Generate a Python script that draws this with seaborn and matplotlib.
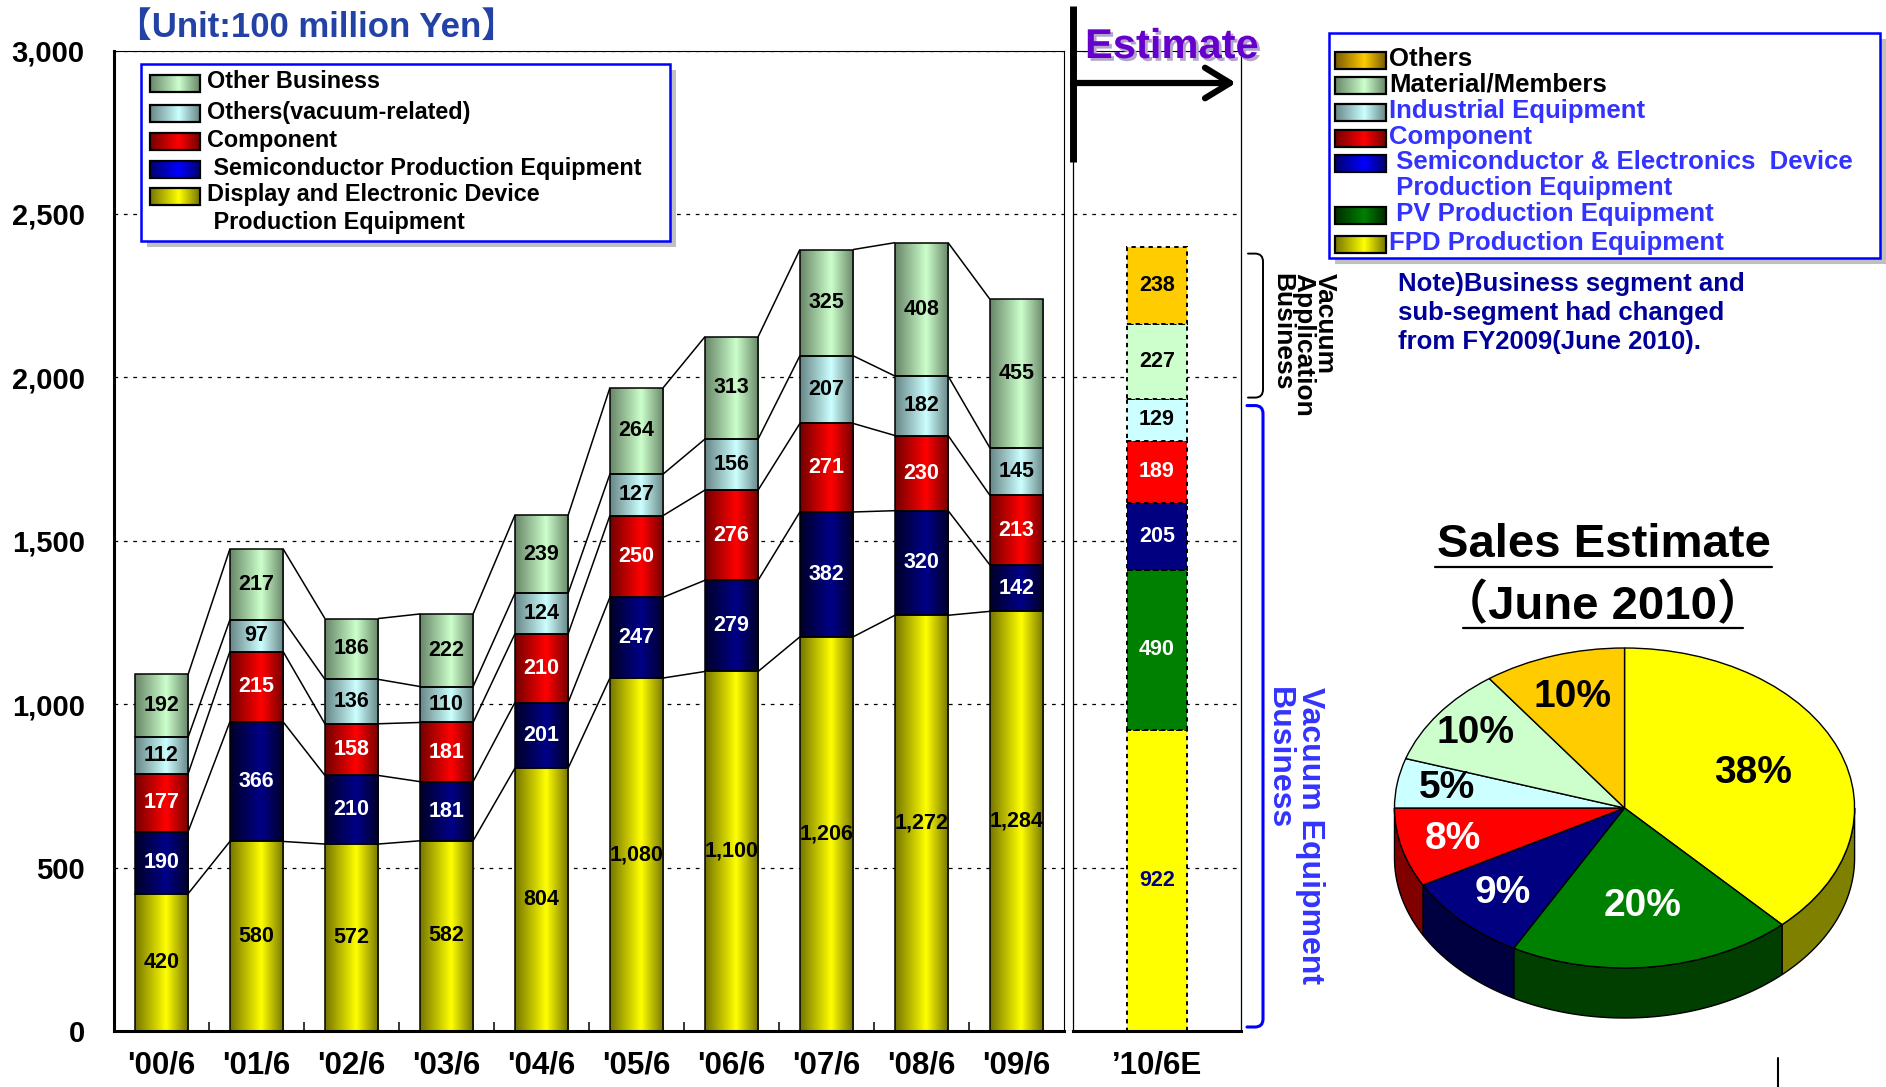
import numpy as np
import pandas as pd
import matplotlib
matplotlib.use("Agg")
import matplotlib.pyplot as plt
import matplotlib.patheffects as pe
import seaborn as sns
from matplotlib.colors import LinearSegmentedColormap
from matplotlib.patches import Rectangle, PathPatch
from matplotlib.path import Path

# ------------------------------------------------------------------
# Net sales by business segment (unit: 100 million yen)
# ------------------------------------------------------------------
years = ["'00/6", "'01/6", "'02/6", "'03/6", "'04/6",
         "'05/6", "'06/6", "'07/6", "'08/6", "'09/6"]
display_equipment = [420, 580, 572, 582, 804, 1080, 1100, 1206, 1272, 1284]
semiconductor_equipment = [190, 366, 210, 181, 201, 247, 279, 382, 320, 142]
component = [177, 215, 158, 181, 210, 250, 276, 271, 230, 213]
others_vacuum = [112, 97, 136, 110, 124, 127, 156, 207, 182, 145]
other_business = [192, 217, 186, 222, 239, 264, 313, 325, 408, 455]

# FY2010 estimate, new segmentation (bottom to top):
# FPD, PV, Semiconductor & Electronics, Component, Industrial, Material/Members, Others
estimate_label = "’10/6E"
estimate_values = [922, 490, 205, 189, 129, 227, 238]
pie_percent = [38, 20, 9, 8, 5, 10, 10]

y_ticks = [0, 500, 1000, 1500, 2000, 2500, 3000]

# ------------------------------------------------------------------
# Styling
# ------------------------------------------------------------------
W, H, DPI = 1886, 1087, 100
sns.set_theme(style="white")
plt.rcParams["font.family"] = ["Liberation Sans", "Noto Sans CJK JP", "DejaVu Sans"]
plt.rcParams["font.weight"] = "bold"
for key in ("text.color", "xtick.color", "ytick.color", "axes.labelcolor"):
    plt.rcParams[key] = "black"

# (dark edge, bright centre) pairs for the cylinder-like shading
YELLOW = ("#767600", "#ffff00")
NAVY = ("#000028", "#000088")
RED = ("#740000", "#ff0000")
CYAN = ("#688686", "#ccffff")
LGREEN = ("#688668", "#ccffcc")
BLUE_SW = ("#00006e", "#0000ff")
GOLD = ("#7a5a00", "#ffcc00")
GREEN = ("#002c00", "#008000")

GRAD = np.linspace(0, 1, 128).reshape(1, -1)


def make_cmap(pair):
    dark, bright = pair
    return LinearSegmentedColormap.from_list(
        "shade", [(0.0, dark), (0.58, bright), (1.0, dark)])


GRID_STYLE = dict(color="black", linewidth=0.9, linestyle=(0, (3, 4.5)))

fig = plt.figure(figsize=(W / DPI, H / DPI), dpi=DPI)
fig.patch.set_facecolor("white")


def fx(px):
    return px / W


def fy(py):
    return 1 - py / H


AX_TOP, AX_BOT = 50.5, 1031
ax = fig.add_axes([fx(114), fy(AX_BOT), (1064 - 114) / W, (AX_BOT - AX_TOP) / H])
ax_est = fig.add_axes([fx(1073), fy(AX_BOT), (1241 - 1073) / W, (AX_BOT - AX_TOP) / H])

# ------------------------------------------------------------------
# Historical stacked bars
# ------------------------------------------------------------------
df = pd.DataFrame({
    "year": years,
    "display": display_equipment,
    "semi": semiconductor_equipment,
    "component": component,
    "vac": others_vacuum,
    "other": other_business,
})
layers = [("display", YELLOW, "black"), ("semi", NAVY, "white"),
          ("component", RED, "white"), ("vac", CYAN, "black"),
          ("other", LGREEN, "black")]
BAR_W = 0.56
base = np.zeros(len(years))
levels = []
for col, pair, tcol in layers:
    n0 = len(ax.patches)
    sns.barplot(data=df, x="year", y=col, order=years, bottom=base, width=BAR_W,
                color=pair[1], saturation=1, errorbar=None, ax=ax)
    cmap = make_cmap(pair)
    for p in ax.patches[n0:]:
        x0, y0, w, h = p.get_x(), p.get_y(), p.get_width(), p.get_height()
        im = ax.imshow(GRAD, cmap=cmap, extent=(x0, x0 + w, y0, y0 + h),
                       aspect="auto", interpolation="bilinear", zorder=1.6)
        im.set_clip_path(p)
        p.set_facecolor("none")
        p.set_edgecolor("black")
        p.set_linewidth(1.1)
        p.set_zorder(2)
    vals = df[col].to_numpy()
    for i, v in enumerate(vals):
        ax.text(i, base[i] + v / 2, f"{v:,}", ha="center", va="center",
                color=tcol, fontsize=15.5, fontweight="bold", zorder=5)
    base = base + vals
    levels.append(base.copy())

# lines joining the segment tops of neighbouring bars
for lv in levels:
    for i in range(len(years) - 1):
        ax.plot([i + BAR_W / 2, i + 1 - BAR_W / 2], [lv[i], lv[i + 1]],
                color="black", lw=1.1, zorder=1.7, solid_capstyle="butt")

ax.set_xlim(-0.5, len(years) - 0.5)
ax.set_ylim(0, 3000)
ax.set_yticks(y_ticks)
ax.set_yticklabels([f"{v:,}" for v in y_ticks], fontsize=21, fontweight="bold")
ax.set_xticks(range(len(years)))
ax.set_xticklabels(years, fontsize=22.5, fontweight="bold")
ax.set_xticks(np.arange(0.5, len(years) - 1, 1.0), minor=True)
ax.tick_params(axis="y", length=0, pad=21)
ax.tick_params(axis="x", which="major", length=0, pad=14)
ax.tick_params(axis="x", which="minor", bottom=True, direction="in",
               length=6.5, width=1.1, color="black")
ax.set_xlabel("")
ax.set_ylabel("")
ax.grid(False)
ax.yaxis.grid(True, **GRID_STYLE)
ax.set_axisbelow(True)
for side, lw in (("left", 2.2), ("bottom", 2.2), ("top", 0.8), ("right", 0.8)):
    ax.spines[side].set_visible(True)
    ax.spines[side].set_color("black")
    ax.spines[side].set_linewidth(lw)

# ------------------------------------------------------------------
# Estimate bar
# ------------------------------------------------------------------
est_colors = ["#ffff00", "#008000", "#000080", "#ff0000", "#ccffff", "#ccffcc", "#ffcc00"]
est_text_colors = ["#000080", "white", "white", "white", "black", "black", "black"]
est_base = 0
for v, c, tc in zip(estimate_values, est_colors, est_text_colors):
    n0 = len(ax_est.patches)
    sns.barplot(x=[estimate_label], y=[v], bottom=[est_base], width=0.357,
                color=c, saturation=1, errorbar=None, ax=ax_est)
    for p in ax_est.patches[n0:]:
        p.set_edgecolor("black")
        p.set_linewidth(1.4)
        p.set_linestyle((0, (2.2, 2.2)))
        p.set_zorder(2)
    ax_est.text(0, est_base + v / 2, f"{v:,}", ha="center", va="center",
                color=tc, fontsize=15.5, fontweight="bold", zorder=5)
    est_base += v

ax_est.set_xlim(-0.5, 0.5)
ax_est.set_ylim(0, 3000)
ax_est.set_yticks(y_ticks)
ax_est.set_yticklabels([])
ax_est.tick_params(axis="y", length=0)
ax_est.set_xticks([0])
ax_est.set_xticklabels([estimate_label], fontsize=22.5, fontweight="bold")
ax_est.tick_params(axis="x", length=0, pad=14)
ax_est.set_xlabel("")
ax_est.set_ylabel("")
ax_est.grid(False)
ax_est.yaxis.grid(True, **GRID_STYLE)
ax_est.set_axisbelow(True)
for side, lw in (("left", 0.9), ("bottom", 2.2), ("top", 0.8), ("right", 0.9)):
    ax_est.spines[side].set_visible(True)
    ax_est.spines[side].set_color("black")
    ax_est.spines[side].set_linewidth(lw)

# ------------------------------------------------------------------
# 3-D style pie of the estimate
# ------------------------------------------------------------------
pie_top = ["#ffff00", "#008000", "#000080", "#ff0000", "#ccffff", "#ccffcc", "#ffcc00"]
pie_side = ["#808000", "#003f00", "#000040", "#800000", "#668080", "#668066", "#806600"]
pie_text = ["black", "white", "white", "white", "black", "black", "black"]
pie_label_radius = [0.60, 0.62, 0.75, 0.77, 0.78, 0.80, 0.73]
axp = fig.add_axes([fx(1380), fy(1030), 490 / W, 400 / H])
wedges, _, autotexts = axp.pie(
    pie_percent, colors=pie_top, startangle=90, counterclock=False, radius=1.0,
    autopct="%.0f%%", pctdistance=0.7,
    wedgeprops=dict(edgecolor="black", linewidth=1.0),
    textprops=dict(fontsize=28, fontweight="bold"))

DEPTH = 0.3125
cum = np.concatenate([[0], np.cumsum(pie_percent)]) / np.sum(pie_percent)
for k, (t, c, r) in enumerate(zip(autotexts, pie_text, pie_label_radius)):
    mid = np.radians(90 - (cum[k] + cum[k + 1]) / 2 * 360)
    t.set_position((r * np.cos(mid), r * np.sin(mid)))
    t.set_color(c)

for k in range(len(pie_percent)):
    a = 90 - cum[k] * 360
    b = 90 - cum[k + 1] * 360
    hi, lo = min(a, 0.0), max(b, -180.0)
    if hi <= lo:
        continue
    t = np.radians(np.linspace(hi, lo, 80))
    xs = np.concatenate([np.cos(t), np.cos(t[::-1])])
    ys = np.concatenate([np.sin(t), np.sin(t[::-1]) - DEPTH])
    axp.fill(xs, ys, facecolor=pie_side[k], edgecolor="black", linewidth=1.0, zorder=0.5)

axp.set_aspect("auto")
axp.set_xlim(-1.063, 1.067)
axp.set_ylim(-1.3875, 1.1125)
axp.axis("off")

# ------------------------------------------------------------------
# Annotation layer in pixel coordinates (y downwards)
# ------------------------------------------------------------------
ov = fig.add_axes([0, 0, 1, 1], zorder=10)
ov.axis("off")


def y_px(axis, value):
    return H - axis.transData.transform((0, value))[1]


def legend_box(x0, y0, w, h):
    ov.add_patch(Rectangle((x0 + 6, y0 + 6), w, h, facecolor="#c0c0c0",
                           edgecolor="none", zorder=20))
    ov.add_patch(Rectangle((x0, y0), w, h, facecolor="white",
                           edgecolor="#0000ff", lw=1.8, zorder=21))


def swatch(x0, yc, w, h, pair):
    ov.imshow(GRAD, cmap=make_cmap(pair), extent=(x0, x0 + w, yc + h / 2, yc - h / 2),
              aspect="auto", interpolation="bilinear", zorder=22)
    ov.add_patch(Rectangle((x0, yc - h / 2), w, h, fill=False,
                           edgecolor="black", lw=1.6, zorder=23))


# legend of the historical segments
legend_box(141, 64, 529, 177)
left_rows = [("Other Business", LGREEN, 82),
             ("Others(vacuum-related)", CYAN, 112),
             ("Component", RED, 140),
             (" Semiconductor Production Equipment", BLUE_SW, 168),
             ("Display and Electronic Device", YELLOW, 195)]
for label, pair, yc in left_rows:
    swatch(150, yc + 1, 50, 17, pair)
    ov.text(207, yc, label, fontsize=16.8, fontweight="bold", color="black",
            ha="left", va="center", zorder=24)
ov.text(207, 223, " Production Equipment", fontsize=16.8, fontweight="bold",
        color="black", ha="left", va="center", zorder=24)

# legend of the new segmentation
legend_box(1329, 33, 551, 225)
BLUE_TXT = "#3333ff"
right_rows = [("Others", GOLD, "black", 59),
              ("Material/Members", LGREEN, "black", 84),
              ("Industrial Equipment", CYAN, BLUE_TXT, 111),
              ("Component", RED, BLUE_TXT, 137),
              (" Semiconductor & Electronics  Device", BLUE_SW, BLUE_TXT, 162),
              (" PV Production Equipment", GREEN, BLUE_TXT, 214),
              ("FPD Production Equipment", YELLOW, BLUE_TXT, 243)]
for label, pair, tc, yc in right_rows:
    swatch(1335, yc + 1, 51, 17, pair)
    ov.text(1389, yc, label, fontsize=18.5, fontweight="bold", color=tc,
            ha="left", va="center", zorder=24)
ov.text(1389, 188, " Production Equipment", fontsize=18.5, fontweight="bold",
        color=BLUE_TXT, ha="left", va="center", zorder=24)

# note
for text, yc in (("Note)Business segment and", 284),
                 ("sub-segment had changed", 313),
                 ("from FY2009(June 2010).", 342)):
    ov.text(1398, yc, text, fontsize=18.5, fontweight="bold", color="#000099",
            ha="left", va="center", zorder=24)

# unit title
ov.text(117, 27, "【Unit:100 million Yen】", fontsize=25, fontweight="bold",
        color="#2342a6", ha="left", va="center", zorder=24)

# estimate marker
ov.plot([1072.5, 1072.5], [6, 162], color="black", lw=5.0,
        solid_capstyle="butt", zorder=29)
ov.annotate("", xy=(1236, 83), xytext=(1073, 83),
            arrowprops=dict(arrowstyle="->,head_length=0.9,head_width=0.55",
                            lw=4.5, color="black", shrinkA=0, shrinkB=0,
                            mutation_scale=20, capstyle="round",
                            joinstyle="round"),
            zorder=30)
ov.text(1085, 47, "Estimate", fontsize=30, fontweight="bold", color="#6600cc",
        ha="left", va="center", zorder=31,
        path_effects=[pe.SimplePatchShadow(offset=(2, -2), shadow_rgbFace="#b4a4cc",
                                           alpha=1.0), pe.Normal()])


def bracket(xl, xr, yt, yb, color, lw, r=8):
    verts = [(xl, yt), (xr - r, yt), (xr, yt), (xr, yt + r),
             (xr, yb - r), (xr, yb), (xr - r, yb), (xl, yb)]
    codes = [Path.MOVETO, Path.LINETO, Path.CURVE3, Path.CURVE3,
             Path.LINETO, Path.CURVE3, Path.CURVE3, Path.LINETO]
    ov.add_patch(PathPatch(Path(verts, codes), facecolor="none", edgecolor=color,
                           lw=lw, capstyle="round", zorder=25))


total = sum(estimate_values)
vac_equipment_total = sum(estimate_values[:5])
bracket(1248, 1263, y_px(ax_est, total) + 7, y_px(ax_est, vac_equipment_total) - 1,
        "black", 1.4)
bracket(1247, 1263, y_px(ax_est, vac_equipment_total) + 7, y_px(ax_est, 0) - 4,
        "#0000ff", 2.2)

for text, xc in (("Vacuum", 1325), ("Application", 1303), ("Business", 1282)):
    ov.text(xc, 273, text, rotation=270, fontsize=19, fontweight="bold",
            color="black", ha="center", va="top", zorder=24)
for text, xc in (("Vacuum Equipment", 1310), ("Business", 1279)):
    ov.text(xc, 687, text, rotation=270, fontsize=23, fontweight="bold",
            color=BLUE_TXT, ha="center", va="top", zorder=24)

# pie title
ov.text(1604, 545, "Sales Estimate", fontsize=34, fontweight="bold",
        color="black", ha="center", va="center", zorder=24)
ov.text(1603, 607, "（June 2010）", fontsize=34, fontweight="bold",
        color="black", ha="center", va="center", zorder=24)
ov.plot([1435, 1772], [567, 567], color="black", lw=1.6, zorder=24)
ov.plot([1463, 1743], [628, 628], color="black", lw=1.6, zorder=24)

ov.plot([1778, 1778], [1058, 1087], color="black", lw=1.5, zorder=24)

ov.set_xlim(0, W)
ov.set_ylim(H, 0)

fig.savefig("out.png", dpi=DPI, facecolor="white")
